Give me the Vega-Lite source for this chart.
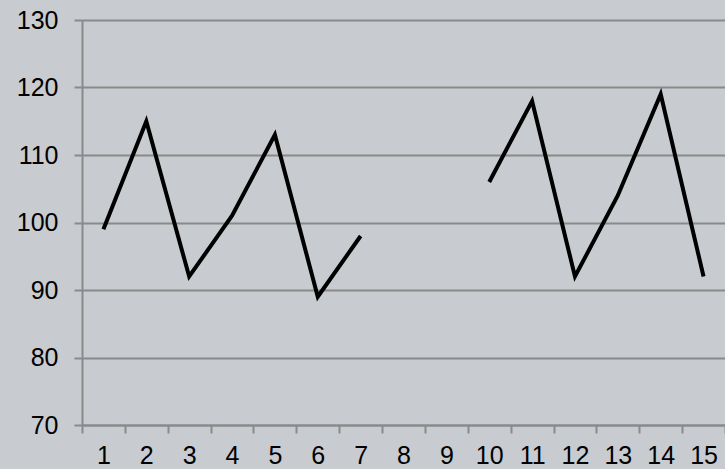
{
  "$schema": "https://vega.github.io/schema/vega-lite/v6.json",
  "autosize": "none",
  "width": 643,
  "height": 405,
  "padding": {"left": 82, "top": 20, "right": 0, "bottom": 44},
  "background": "#c8cbcf",
  "config": {
    "view": {"stroke": null},
    "font": "Liberation Sans"
  },
  "data": {
    "values": [
      {"x": "1", "y": 99},
      {"x": "2", "y": 115},
      {"x": "3", "y": 92},
      {"x": "4", "y": 101},
      {"x": "5", "y": 113},
      {"x": "6", "y": 89},
      {"x": "7", "y": 98},
      {"x": "8", "y": null},
      {"x": "9", "y": null},
      {"x": "10", "y": 106},
      {"x": "11", "y": 118},
      {"x": "12", "y": 92},
      {"x": "13", "y": 104},
      {"x": "14", "y": 119},
      {"x": "15", "y": 92}
    ]
  },
  "mark": {"type": "line", "color": "#000000", "strokeWidth": 4, "invalid": "break-paths-show-domains", "strokeJoin": "miter"},
  "encoding": {
    "x": {
      "field": "x",
      "type": "ordinal",
      "sort": null,
      "bandPosition": 0.5,
      "scale": {"type": "band", "domain": ["1","2","3","4","5","6","7","8","9","10","11","12","13","14","15"], "paddingInner": 0, "paddingOuter": 0},
      "axis": {
        "title": null,
        "labelAngle": 0,
        "labelFontSize": 25,
        "labelColor": "#000000",
        "labelPadding": 10,
        "tickBand": "extent",
        "tickSize": 8,
        "tickColor": "#8a8a8a",
        "tickWidth": 2,
        "domainColor": "#8a8a8a",
        "domainWidth": 2,
        "grid": false
      }
    },
    "y": {
      "field": "y",
      "type": "quantitative",
      "scale": {"domain": [70, 130], "nice": false, "zero": false},
      "axis": {
        "title": null,
        "values": [70, 80, 90, 100, 110, 120, 130],
        "labelFontSize": 25,
        "labelColor": "#000000",
        "labelPadding": 16,
        "tickSize": 8,
        "tickColor": "#8a8a8a",
        "tickWidth": 2,
        "domainColor": "#8a8a8a",
        "domainWidth": 2,
        "grid": true,
        "gridColor": "#8a8a8a",
        "gridWidth": 2
      }
    }
  }
}
